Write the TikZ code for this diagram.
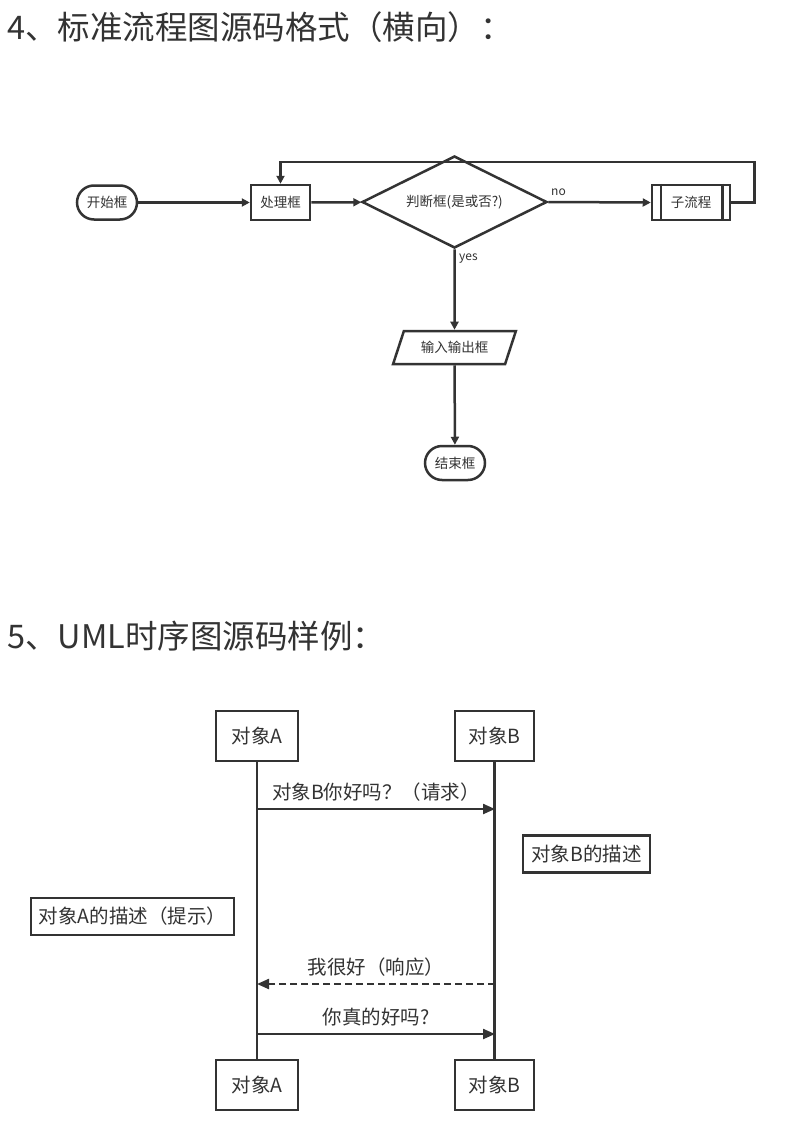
\documentclass[tikz,border=0pt]{standalone}
\usepackage{fontspec}
\setmainfont{Noto Sans CJK SC}
\usetikzlibrary{shapes.geometric,arrows.meta,calc}
\definecolor{ink}{HTML}{333333}
\begin{document}
\begin{tikzpicture}[x=1pt,y=-1pt,
  ftext/.style={text=ink, font=\fontsize{13.5}{16}\selectfont},
  fbox/.style={ftext, draw=ink, line width=2.5pt, inner sep=0pt},
  terminal/.style={fbox, rounded corners=17pt, minimum width=60pt, minimum height=34pt},
  process/.style={fbox, rectangle, minimum width=59pt, minimum height=35pt},
  decision/.style={fbox, diamond, shape aspect=2, minimum width=185pt, minimum height=92pt},
  subproc/.style={fbox, rectangle, minimum width=78pt, minimum height=35pt},
  iobox/.style={fbox, trapezium, trapezium left angle=60, trapezium right angle=120, trapezium stretches=true, minimum width=123pt, minimum height=33pt},
  flab/.style={text=ink, inner sep=0pt, font=\fontsize{12}{14}\selectfont},
  farr/.style={draw=ink, line width=2.5pt, -{Triangle[length=8pt,width=8pt]}},
  stext/.style={text=ink, font=\fontsize{19.5}{22}\selectfont},
  objbox/.style={stext, draw=ink, line width=2.2pt, minimum height=50pt, inner sep=0pt},
  descbox/.style={stext, draw=ink, line width=2.2pt, minimum height=37pt, inner xsep=8pt, inner ysep=0pt},
  sline/.style={draw=ink, line width=2.2pt},
  msg/.style={draw=ink, line width=2.2pt, -{Triangle[length=12pt,width=10pt]}},
  msglab/.style={stext, inner sep=0pt, above=7pt},
  title/.style={text=ink, anchor=west, inner sep=0pt, font=\fontsize{32.5}{38}\selectfont}
]
\useasboundingbox[fill=white] (0,0) rectangle (789,1129);

% titles
\node[title] (t1) at (7,27) {4、标准流程图源码格式（横向）：};
\node[title] (t2) at (7,636) {5、UML时序图源码样例：};

% flowchart
\node[terminal] (start) at (107,202.5) {开始框};
\node[process] (proc) at (280.5,202.5) {处理框};
\node[decision] (dec) at (454.5,202) {判断框(是或否?)};
\node[subproc] (sub) at (691,202.5) {子流程};
\draw[ink, line width=2.5pt] ($(sub.north west)+(10,0)$) -- ($(sub.south west)+(10,0)$)
  ($(sub.north east)+(-9,0)$) -- ($(sub.south east)+(-9,0)$);
\node[iobox] (io) at (454.5,347.5) {输入输出框};
\node[terminal] (end) at (455,463) {结束框};

\draw[farr] (start) -- (proc);
\draw[farr] (proc) -- (dec);
\draw[farr] (dec.east) -- (sub.west);
\node[flab, anchor=west] (nolab) at (551,192) {no};
\draw[farr] (sub.east) -- ++(23,0) -- ++(0,-40.5) -| (proc.north);
\draw[farr] (dec.south) -- (io.north);
\node[flab, anchor=west] (yeslab) at (459,259) {yes};
\draw[farr] (io) -- (end);

% sequence diagram
\node[objbox, minimum width=82pt] (a1) at (257,736) {对象A};
\node[objbox, minimum width=79pt] (b1) at (494.5,736) {对象B};
\node[objbox, minimum width=82pt] (a2) at (257,1085) {对象A};
\node[objbox, minimum width=79pt] (b2) at (494.5,1085) {对象B};
\draw[sline] (a1) -- (a2);
\draw[sline] (b1) -- (b2);

\node[descbox] (bdesc) at (586.5,854) {对象B的描述};
\node[descbox] (adesc) at (132.5,916.5) {对象A的描述（提示）};

\coordinate (m1a) at (257,809);
\coordinate (m1b) at (495,809);
\coordinate (m2a) at (257,984);
\coordinate (m2b) at (495,984);
\coordinate (m3a) at (257,1034);
\coordinate (m3b) at (495,1034);

\draw[msg] (m1a) -- node[msglab] (l1) {对象B你好吗？（请求）} (m1b);
\draw[msg, dash pattern=on 7pt off 4pt] (m2b) -- node[msglab] (l2) {我很好（响应）} (m2a);
\draw[msg] (m3a) -- node[msglab] (l3) {你真的好吗?} (m3b);
\end{tikzpicture}
\end{document}
